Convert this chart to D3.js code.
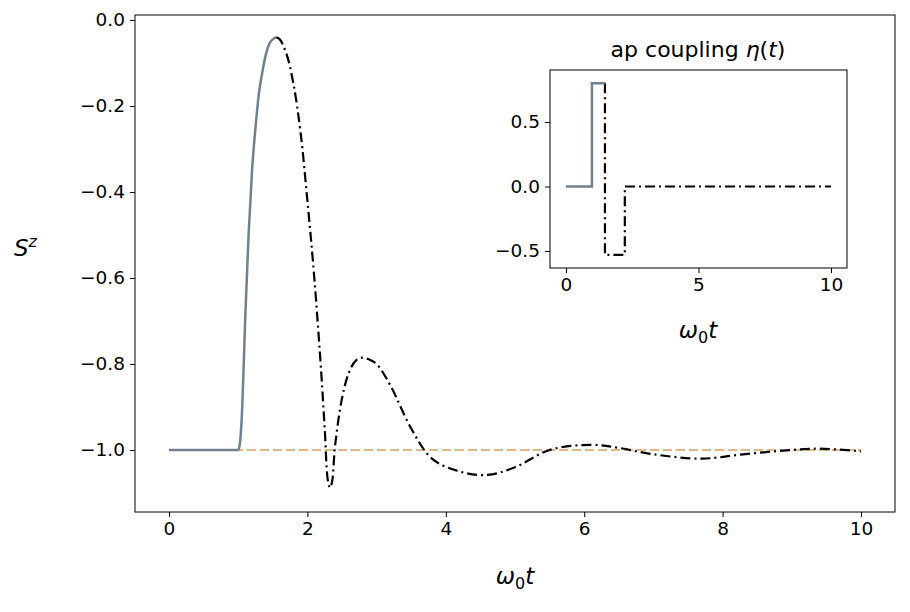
<!DOCTYPE html>
<html><head><meta charset="utf-8">
<script src="https://cdn.jsdelivr.net/npm/d3@7"></script>
<style>body{margin:0;background:#fff}text{font-family:"DejaVu Sans",sans-serif}</style>
</head><body><svg id="c" width="910" height="612"></svg>
<script>
const mainRiseT=[0,1.0,1.02,1.05,1.08,1.1,1.15,1.2,1.25,1.3,1.35,1.4,1.45,1.5,1.55];
const mainRiseV=[-1,-1,-0.99,-0.93,-0.8,-0.7,-0.5,-0.35,-0.25,-0.17,-0.12,-0.08,-0.055,-0.045,-0.04];
const mainDecT=[1.55,1.6,1.7,1.8,1.9,2.0,2.1,2.2,2.25,2.3,2.33,2.36,2.4,2.5,2.6,2.7,2.8,2.9,3.0,3.2,3.5,3.8,4.2,4.6,5.0,5.5,6.1,6.5,7.0,7.7,8.3,9.0,9.4,10];
const mainDecV=[-0.04,-0.045,-0.08,-0.15,-0.26,-0.42,-0.6,-0.82,-0.95,-1.075,-1.088,-1.07,-0.99,-0.88,-0.82,-0.792,-0.785,-0.79,-0.80,-0.85,-0.95,-1.02,-1.05,-1.058,-1.04,-1.0,-0.988,-0.995,-1.01,-1.02,-1.01,-1.0,-0.997,-1.003];
const refT=[0,10], refV=[-1,-1];
const inGrayT=[0,0.98,0.98,1.47], inGrayV=[0,0,0.8,0.8];
const inBlackT=[1.47,1.47,2.22,2.22,10], inBlackV=[0.8,-0.53,-0.53,0,0];
const mainXTicks=[0,2,4,6,8,10], mainYTicks=[0,-0.2,-0.4,-0.6,-0.8,-1.0];
const inXTicks=[0,5,10], inYTicks=[0.5,0,-0.5];

const svg=d3.select("#c");
const fmt=d=>d.toFixed(1).replace("-","\u2212");
function axes(g,x,y,xt,yt,xf,yf,fs){
  const [x0,x1]=x.range(),[y0,y1]=y.range();
  g.append("rect").attr("x",x0).attr("y",y1).attr("width",x1-x0).attr("height",y0-y1).attr("fill","none").attr("stroke","#000").attr("stroke-width",1);
  const xa=g.append("g").attr("transform",`translate(0,${y0})`).call(d3.axisBottom(x).tickValues(xt).tickFormat(xf).tickSizeOuter(0).tickSize(5).tickPadding(5));
  const ya=g.append("g").attr("transform",`translate(${x0},0)`).call(d3.axisLeft(y).tickValues(yt).tickFormat(yf).tickSizeOuter(0).tickSize(5).tickPadding(5));
  [xa,ya].forEach(a=>{a.select(".domain").remove();a.selectAll("text").attr("font-size",fs).attr("fill","#000").attr("font-family","DejaVu Sans");});
}
function line(g,x,y,T,V,col,dash,w,curve){
  g.append("path").datum(T.map((t,i)=>[t,V[i]])).attr("d",d3.line().x(d=>x(d[0])).y(d=>y(d[1])).curve(curve||d3.curveLinear))
   .attr("fill","none").attr("stroke",col).attr("stroke-width",w).attr("stroke-dasharray",dash);
}
const x=d3.scaleLinear().domain([0,10]).range([169,861]);
const y=d3.scaleLinear().domain([-1,0]).range([450,20]);
const xm=d3.scaleLinear().domain([x.invert(135),x.invert(895)]).range([135,895]);
const ym=d3.scaleLinear().domain([y.invert(512),y.invert(15)]).range([512,15]);
const g=svg.append("g");
line(g,xm,ym,refT,refV,"#deb887","9,4",2.2);
line(g,xm,ym,mainRiseT,mainRiseV,"#708090",null,2.5,d3.curveMonotoneX);
line(g,xm,ym,mainDecT,mainDecV,"#000","10,4,2,4",2.2,d3.curveCatmullRom);
axes(g,xm,ym,mainXTicks,mainYTicks,d=>d,fmt,"18.5px");
g.append("text").attr("x",515).attr("y",584).attr("text-anchor","middle").attr("font-size","23px").html('<tspan font-style="italic">ω</tspan><tspan font-size="16px" dy="5">0</tspan><tspan font-style="italic" dy="-5">t</tspan>');
g.append("text").attr("x",14).attr("y",256).attr("font-size","23px").html('<tspan font-style="italic">S</tspan><tspan font-style="italic" font-size="16px" dy="-9">z</tspan>');
const xi=d3.scaleLinear().domain([0,10]).range([566,831]);
const yi=d3.scaleLinear().domain([-0.5,0.5]).range([251,122]);
const xI=d3.scaleLinear().domain([xi.invert(550),xi.invert(847)]).range([550,847]);
const yI=d3.scaleLinear().domain([yi.invert(268),yi.invert(70)]).range([268,70]);
const gi=svg.append("g");
gi.append("rect").attr("x",550).attr("y",70).attr("width",297).attr("height",198).attr("fill","#fff");
line(gi,xI,yI,inBlackT,inBlackV,"#000","10,4,2,4",2.2);
line(gi,xI,yI,inGrayT,inGrayV,"#708090",null,2.5);
axes(gi,xI,yI,inXTicks,inYTicks,d=>d,fmt,"18.5px");
gi.append("text").attr("x",698).attr("y",338).attr("text-anchor","middle").attr("font-size","23px").html('<tspan font-style="italic">ω</tspan><tspan font-size="16px" dy="5">0</tspan><tspan font-style="italic" dy="-5">t</tspan>');
gi.append("text").attr("x",698).attr("y",57).attr("text-anchor","middle").attr("font-size","22px").html('ap coupling <tspan font-style="italic">η</tspan>(<tspan font-style="italic">t</tspan>)');
</script></body></html>
